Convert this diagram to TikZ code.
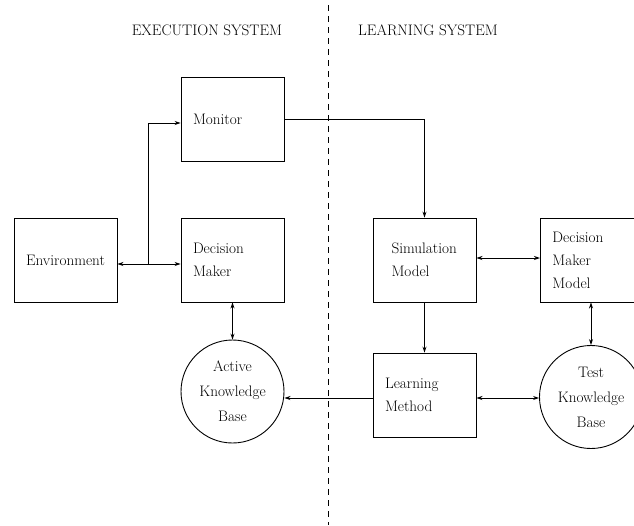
\documentclass[tikz,border=0pt]{standalone}
\usetikzlibrary{arrows.meta}
\begin{document}
\begin{tikzpicture}[x=1pt,y=-1pt,
  every node/.style={font=\fontsize{15.2}{23}\selectfont},
  box/.style={draw,line width=0.9pt,minimum width=103pt,minimum height=84pt,inner sep=0pt},
  kb/.style={draw,circle,line width=0.9pt,minimum size=103pt,inner sep=0pt,align=center,font=\fontsize{15.2}{25}\selectfont},
  conn/.style={line width=0.9pt},
  >={Stealth[length=6pt,width=4pt]}]
\useasboundingbox (0,0) rectangle (634,525);
\clip (0,0) rectangle (634,525);
% divider
\draw[line width=0.9pt,dash pattern=on 6pt off 5pt] (328,5) -- (328,525);
% titles
\node (t1) at (207,30) {EXECUTION SYSTEM};
\node (t2) at (428,30) {LEARNING SYSTEM};
% boxes
\node[box] (mon) at (232.5,119) {\parbox{79pt}{Monitor}};
\node[box] (env) at (65.5,260) {Environment};
\node[box] (dm) at (232.5,260) {\parbox{79pt}{Decision\\Maker}};
\node[box] (sim) at (424.5,260) {\hspace*{14pt}\parbox{80pt}{Simulation\\Model}};
\node[box] (lm) at (424.5,395) {\parbox{79pt}{Learning\\Method}};
\node[box,minimum width=120pt,anchor=west] (dmm) at (540,260) {\parbox{96pt}{Decision\\Maker\\Model}};
% circles
\node[kb] (akb) at (232.5,391.5) {Active\\Knowledge\\Base};
\node[kb] (tkb) at (591,397) {Test\\Knowledge\\Base};
% connectors
\draw[conn,->] (mon.east) -| (sim.north);
\coordinate (j) at (148,264);
\draw[conn,<->] ([yshift=-4pt]env.east) -- ([yshift=-4pt]dm.west);
\draw[conn,->] (j) |- ([yshift=-4pt]mon.west);
\draw[conn,<->] (dm.south) -- (akb.north);
\draw[conn,->] (sim.south) -- (lm.north);
\draw[conn,<->] ([yshift=2pt]sim.east) -- ([yshift=2pt]dmm.west);
\draw[conn,->] ([yshift=-3pt]lm.west) -- ([yshift=-3pt]lm.west -| akb.east);
\draw[conn,<->] ([yshift=-3pt]lm.east) -- ([yshift=-3pt]lm.east -| tkb.west);
\draw[conn,<->] (tkb.north |- dmm.south) -- (tkb.north);
\end{tikzpicture}
\end{document}
